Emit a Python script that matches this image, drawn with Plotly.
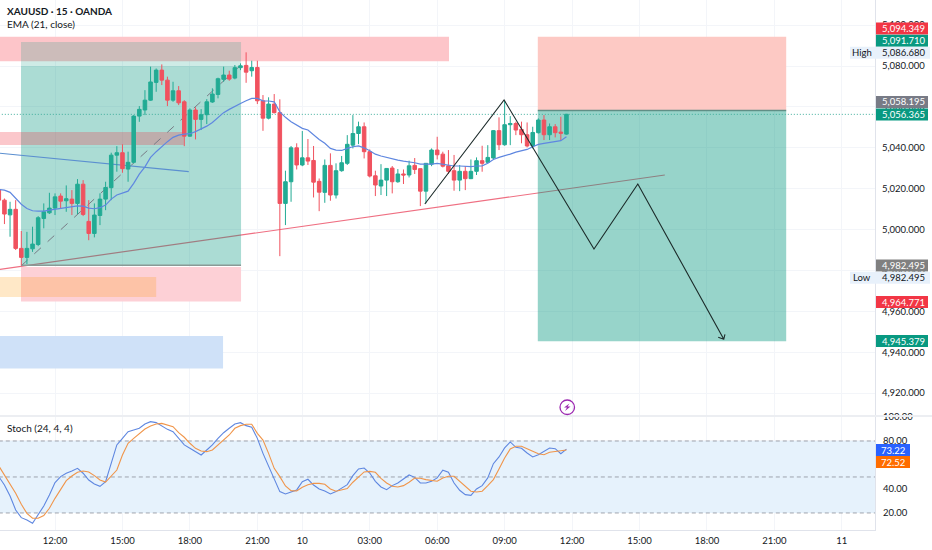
import plotly.graph_objects as go
from plotly.subplots import make_subplots

# bars are 15 min each, x is the bar number (12:00 on the 9th = bar 0), gaps in session don't count
bar_dirs = list(
    "RRGRRGGGGG" "GRGRGRRGGG" "GGRGGGGGGR" "RGRRGRGGGG" "GRGGRGRRGR"
    "RGGRGRRRGR" "GGGGGRRRGG" "RGRGRRGGRR" "RRGRGGRGGR" "GGRRRGGRGR"
    "RG"
)
bar_high = [5024.2, 5015.2, 5013.6, 5014.4, 4999.3, 4998.9, 5001.4, 5006.6, 5012.8, 5018.0,
            5017.7, 5017.7, 5021.6, 5019.3, 5024.7, 5024.2, 5014.4, 5012.8, 5017.7, 5023.4,
            5037.6, 5040.8, 5041.7, 5038.1, 5056.0, 5060.4, 5068.2, 5079.7, 5078.8, 5080.8,
            5074.8, 5072.3, 5070.2, 5063.3, 5059.3, 5059.8, 5058.9, 5063.8, 5069.1, 5074.3,
            5079.7, 5077.7, 5080.5, 5081.3, 5086.7, 5082.6, 5082.6, 5065.8, 5064.7, 5066.3,
            5063.7, 5028.8, 5040.9, 5042.2, 5048.2, 5044.3, 5040.9, 5025.0, 5034.3, 5037.3,
            5032.4, 5036.0, 5046.2, 5056.0, 5052.8, 5052.4, 5039.2, 5028.8, 5032.0, 5029.9,
            5031.1, 5029.6, 5029.4, 5033.7, 5035.0, 5029.9, 5032.4, 5039.7, 5045.4, 5038.1,
            5038.9, 5036.5, 5031.6, 5031.1, 5034.3, 5035.3, 5041.0, 5041.3, 5048.7, 5054.9,
            5063.0, 5055.5, 5052.8, 5052.8, 5052.4, 5050.3, 5054.4, 5056.0, 5051.9, 5051.6,
            5055.2, 5056.4]
bar_top = [5019.6, 5014.4, 5009.9, 5009.9, 4990.8, 4990.8, 4992.9, 5005.8, 5008.7, 5010.5,
           5016.0, 5016.4, 5015.1, 5014.9, 5022.2, 5022.2, 5004.0, 5007.1, 5014.9, 5020.6,
           5036.4, 5037.6, 5037.6, 5032.9, 5055.5, 5058.8, 5063.3, 5072.2, 5078.0, 5078.0,
           5073.1, 5067.9, 5067.9, 5062.5, 5058.5, 5058.5, 5056.2, 5062.5, 5066.3, 5073.8,
           5075.6, 5075.6, 5079.2, 5080.1, 5080.3, 5079.3, 5079.3, 5063.0, 5061.4, 5061.4,
           5057.2, 5023.4, 5040.0, 5040.0, 5035.1, 5035.1, 5033.8, 5023.6, 5031.4, 5031.4,
           5028.8, 5032.7, 5041.7, 5047.0, 5050.3, 5050.3, 5038.1, 5026.3, 5024.2, 5029.9,
           5030.1, 5027.2, 5027.2, 5031.2, 5031.4, 5029.8, 5032.4, 5038.9, 5038.9, 5036.9,
           5031.2, 5028.8, 5028.5, 5028.5, 5028.5, 5033.7, 5033.7, 5035.3, 5048.4, 5048.4,
           5051.3, 5051.9, 5051.9, 5049.0, 5046.4, 5047.5, 5053.6, 5053.6, 5050.3, 5050.3,
           5047.7, 5056.4]
bar_bottom = [5014.4, 5007.6, 5007.2, 4990.8, 4986.4, 4986.4, 4990.6, 4992.7, 5005.4, 5008.2,
              5010.5, 5013.9, 5014.1, 5012.8, 5012.8, 5007.4, 4998.1, 4998.1, 5006.9, 5014.9,
              5020.5, 5036.4, 5029.8, 5029.6, 5032.9, 5055.5, 5058.5, 5063.3, 5072.0, 5073.1,
              5063.3, 5063.3, 5062.0, 5045.7, 5045.7, 5053.9, 5053.9, 5056.2, 5062.4, 5066.1,
              5073.5, 5073.6, 5074.1, 5079.2, 5077.0, 5077.7, 5063.0, 5054.5, 5054.5, 5057.2,
              5012.8, 5012.8, 5023.4, 5031.6, 5031.6, 5033.5, 5023.2, 5018.3, 5018.2, 5016.9,
              5016.9, 5028.8, 5032.4, 5041.3, 5047.0, 5038.1, 5026.2, 5021.8, 5021.3, 5024.2,
              5023.4, 5023.4, 5026.7, 5026.7, 5029.4, 5018.8, 5018.8, 5032.0, 5036.6, 5031.0,
              5028.5, 5024.2, 5024.2, 5024.9, 5024.9, 5028.5, 5032.4, 5032.9, 5035.0, 5041.5,
              5041.5, 5051.3, 5048.7, 5046.4, 5040.9, 5040.9, 5047.4, 5046.4, 5046.4, 5047.4,
              5047.1, 5046.7]
bar_low = [5013.6, 5002.7, 4996.5, 4990.0, 4982.5, 4983.1, 4989.1, 4991.9, 5000.6, 5007.6,
           5007.1, 5010.3, 5008.7, 5007.1, 5007.6, 5006.6, 4994.8, 4996.2, 5002.2, 5009.5,
           5014.4, 5028.3, 5027.8, 5023.4, 5032.4, 5052.7, 5056.0, 5063.0, 5067.4, 5070.7,
           5060.4, 5062.5, 5060.9, 5040.8, 5045.4, 5044.1, 5048.7, 5051.6, 5062.0, 5064.2,
           5072.3, 5072.8, 5073.5, 5078.0, 5071.8, 5074.8, 5061.4, 5048.3, 5053.9, 5056.8,
           4987.0, 5002.2, 5013.6, 5029.4, 5031.0, 5031.6, 5015.7, 5009.0, 5013.1, 5014.1,
           5015.2, 5028.3, 5031.6, 5039.7, 5041.8, 5034.8, 5025.5, 5016.4, 5016.9, 5016.4,
           5017.7, 5022.9, 5022.3, 5025.5, 5027.2, 5011.5, 5012.8, 5031.0, 5034.3, 5030.4,
           5027.2, 5019.0, 5018.8, 5019.3, 5024.7, 5026.7, 5028.3, 5032.4, 5034.5, 5038.9,
           5041.0, 5041.3, 5046.2, 5042.2, 5040.2, 5039.7, 5047.0, 5043.8, 5043.8, 5045.1,
           5043.8, 5046.4]
ema21 = [5019.6, 5019.3, 5018.2, 5015.2, 5012.4, 5010.3, 5009.2, 5009.0, 5009.0, 5009.5,
         5009.9, 5010.2, 5010.5, 5011.0, 5011.6, 5011.5, 5010.5, 5010.2, 5010.7, 5012.0,
         5014.9, 5016.9, 5017.7, 5018.8, 5022.6, 5027.1, 5030.7, 5035.3, 5038.1, 5040.8,
         5043.0, 5045.1, 5046.2, 5046.7, 5046.9, 5047.9, 5049.2, 5050.6, 5052.4, 5054.9,
         5057.2, 5058.8, 5060.4, 5061.7, 5063.0, 5064.2, 5064.2, 5063.0, 5062.9, 5062.5,
         5057.6, 5054.9, 5052.8, 5051.1, 5049.5, 5048.7, 5046.2, 5044.1, 5042.2, 5039.7,
         5038.9, 5038.7, 5039.7, 5040.5, 5040.9, 5040.0, 5038.6, 5036.9, 5036.0, 5035.3,
         5034.5, 5034.0, 5033.5, 5033.2, 5032.7, 5032.0, 5031.9, 5032.0, 5032.4, 5032.0,
         5031.6, 5031.1, 5031.1, 5030.8, 5030.8, 5031.1, 5031.2, 5032.4, 5034.3, 5035.3,
         5036.0, 5036.9, 5037.9, 5038.6, 5039.2, 5040.5, 5041.7, 5042.2, 5042.7, 5043.2,
         5043.5, 5045.4]
stoch_k = [50.3, 43.3, 34.2, 22.5, 16.1, 14.2, 11.4, 18.3, 25.8, 35.0,
           45.3, 50.3, 53.1, 55.0, 57.2, 53.1, 47.5, 44.2, 42.2, 46.1,
           61.4, 76.7, 82.2, 87.8, 89.2, 90.6, 94.2, 96.1, 95.3, 92.5,
           89.7, 87.8, 82.2, 76.7, 73.9, 71.1, 68.3, 72.5, 76.7, 82.2,
           86.9, 90.6, 94.2, 95.3, 92.8, 91.4, 82.2, 69.7, 58.6, 48.9,
           37.8, 35.8, 37.5, 39.2, 46.1, 48.1, 43.3, 40.0, 38.3, 35.8,
           37.8, 40.8, 43.6, 51.1, 56.7, 57.5, 53.3, 46.4, 41.7, 39.4,
           42.8, 45.0, 48.3, 51.7, 49.7, 45.0, 45.0, 46.4, 49.2, 55.6,
           53.9, 45.0, 38.9, 35.3, 34.7, 40.0, 42.8, 49.2, 61.1, 66.7,
           74.2, 79.2, 74.7, 73.9, 70.0, 66.7, 68.6, 71.4, 74.2, 73.6,
           69.4, 73.22]
stoch_d = [59.2, 51.7, 43.3, 36.4, 27.2, 19.7, 15.6, 15.6, 17.8, 23.9,
           32.2, 40.0, 46.9, 50.8, 53.9, 55.0, 54.2, 51.1, 47.5, 45.8,
           51.1, 55.8, 68.3, 78.1, 82.2, 86.4, 90.0, 92.5, 94.2, 94.7,
           93.6, 91.9, 86.9, 83.1, 78.1, 73.9, 71.7, 71.1, 72.5, 76.7,
           80.3, 85.0, 90.6, 92.8, 93.9, 93.9, 86.4, 80.8, 69.7, 57.2,
           50.3, 42.5, 38.6, 38.3, 41.4, 43.6, 44.7, 44.7, 43.9, 40.0,
           38.1, 38.9, 40.3, 45.6, 50.0, 54.2, 54.7, 53.9, 48.9, 45.0,
           42.2, 41.7, 42.8, 45.6, 49.2, 48.9, 47.8, 46.9, 46.4, 49.2,
           50.6, 50.6, 46.4, 41.7, 38.1, 37.5, 38.1, 42.8, 47.8, 56.7,
           65.8, 73.3, 75.6, 75.6, 73.3, 71.4, 69.4, 68.6, 70.6, 71.4,
           71.9, 72.52]

x_ticks = [0, 12, 24, 36, 44, 56, 68, 80, 92, 104, 116, 128, 140]
x_labels = ["12:00", "15:00", "18:00", "21:00", "10", "03:00", "06:00", "09:00",
            "12:00", "15:00", "18:00", "21:00", "11"]
price_ticks = [4920, 4940, 4960, 4980, 5000, 5020, 5040, 5060, 5080, 5100]
stoch_ticks = [20, 40, 60, 80, 100]

# hand drawn objects on the chart: (x0, x1, price0, price1)
pink_zone_top = (-10, 70.1, 5082.4, 5094.3)
pink_zone_mid = (-10, 22.9, 5041.4, 5047.7)
pink_zone_low = (-6.05, 33.1, 4964.8, 4981.7)
orange_zone = (-10, 18, 4967, 4976.8)
blue_zone = (-10, 29.9, 4932, 4947.9)
long_stop = (-6.05, 33.1, 5080.0, 5091.7)
long_target = (-6.05, 33.1, 4982.5, 5080.0)
short_stop = (85.9, 130.1, 5058.2, 5094.3)
short_target = (85.9, 130.1, 4945.4, 5058.2)
trend_blue = (-10, 23.8, 5037.4, 5028.3)
trend_red = (-10, 108.5, 4980.5, 5026.7)
long_diag = (-6.05, 33.1, 4982.2, 5080.5)
# zigzag, the last three points are the little arrow head
path_x = [65.8, 79.9, 95.9, 103.7, 119.0, 118.0, 119.0, 119.2]
path_y = [5012.5, 5063.4, 4990.5, 5022.3, 4946.4, 4947.3, 4946.4, 4948.7]
last_price = 5056.365

GREEN = "#22ab94"
RED = "#f0525f"
TEXT = "#131722"
GRID = "#f3f5f9"
FONT = "Lato"
LABEL_SIZE = 9.5


def px(x):
    return x / 932


def py(y):
    return 1 - y / 550


bars = list(range(-10, 92))
opens = [b if d == "G" else t for d, t, b in zip(bar_dirs, bar_top, bar_bottom)]
closes = [t if d == "G" else b for d, t, b in zip(bar_dirs, bar_top, bar_bottom)]

fig = make_subplots(rows=2, cols=1, shared_xaxes=True)


def zone(box, color, op=1.0):
    fig.add_shape(type="rect", x0=box[0], x1=box[1], y0=box[2], y1=box[3], xref="x", yref="y",
                  fillcolor=color, opacity=op, line_width=0, layer="between")


def segment(seg, color, width=1, dash="solid", layer="between"):
    fig.add_shape(type="line", x0=seg[0], x1=seg[1], y0=seg[2], y1=seg[3], xref="x", yref="y",
                  line=dict(color=color, width=width, dash=dash), layer=layer)


# order matters, the red trend line runs under the green boxes
segment(trend_red, "#ef6f82", 1.2)
zone(pink_zone_top, "#fdc5c9")
zone(pink_zone_low, "#fdd0d6")
zone(orange_zone, "#ff9800", 0.22)
zone(blue_zone, "#cfe1f8")
zone(long_stop, "#089981", 0.2)
zone(long_target, "#089981", 0.34)
zone(pink_zone_mid, "#f23645", 0.28)
zone(short_stop, "#fdc9c4")
zone(short_target, "#089981", 0.42)
segment(long_diag, "#787b86", 1, "dash")
segment((-6.05, 33.1, 4982.5, 4982.5), "#8a9a96", 1.5)
segment((85.9, 130.1, 5058.2, 5058.2), "#5f8f86", 1.5)
segment(trend_blue, "#5b8fd0", 1.2)
segment((-10, 146, last_price, last_price), "#3fae9c", 1, "1px,2px")

fig.add_trace(go.Candlestick(x=bars, open=opens, high=bar_high, low=bar_low, close=closes,
                             increasing=dict(line=dict(color=GREEN, width=1), fillcolor=GREEN),
                             decreasing=dict(line=dict(color=RED, width=1), fillcolor=RED),
                             whiskerwidth=0), row=1, col=1)
fig.add_trace(go.Scatter(x=bars, y=ema21, mode="lines", line=dict(color="#5f87e0", width=1.2)), row=1, col=1)
fig.add_trace(go.Scatter(x=path_x, y=path_y, mode="lines", line=dict(color="#1c2b2a", width=1.1)), row=1, col=1)

# stochastic pane
fig.add_shape(type="rect", x0=-10, x1=146, y0=20, y1=80, xref="x2", yref="y2",
              fillcolor="#e6f2fc", line_width=0, layer="between")
for level in [20, 50, 80]:
    fig.add_shape(type="line", x0=-10, x1=146, y0=level, y1=level, xref="x2", yref="y2",
                  line=dict(color="#8b8e99", width=0.8, dash="4px,3px"), layer="between")
fig.add_trace(go.Scatter(x=bars, y=stoch_k, mode="lines", line=dict(color="#5f87e0", width=1.1)), row=2, col=1)
fig.add_trace(go.Scatter(x=bars, y=stoch_d, mode="lines", line=dict(color="#f0954a", width=1.1)), row=2, col=1)

tick_font = dict(size=LABEL_SIZE, family=FONT, color=TEXT)
fig.update_layout(
    width=932, height=550, margin=dict(l=0, r=0, t=0, b=0), showlegend=False,
    paper_bgcolor="white", plot_bgcolor="white", boxgap=0.1,
    font=dict(family=FONT, size=LABEL_SIZE, color=TEXT),
    xaxis=dict(domain=[0, px(875)], range=[-9.79, 145.9], rangeslider_visible=False, automargin=False,
               tickvals=x_ticks, ticktext=x_labels, showticklabels=False,
               showgrid=True, gridcolor=GRID, zeroline=False, showline=False, ticks=""),
    xaxis2=dict(domain=[0, px(875)], range=[-9.79, 145.9], matches="x", automargin=False,
                tickvals=x_ticks, ticktext=x_labels, showticklabels=True,
                showgrid=True, gridcolor=GRID, zeroline=False, showline=True, linecolor="#e0e3eb",
                ticks="outside", ticklen=2, tickcolor="rgba(0,0,0,0)", tickfont=tick_font),
    yaxis=dict(domain=[py(415), 1], range=[4909.3, 5112.3], side="right", tickvals=price_ticks, automargin=False,
               tickformat=",.3f", showgrid=True, gridcolor=GRID, zeroline=False,
               ticks="outside", ticklen=4, tickcolor="rgba(0,0,0,0)",
               showline=True, linecolor="#e0e3eb", tickfont=tick_font),
    yaxis2=dict(domain=[py(530), py(417)], range=[5.8, 100], side="right", tickvals=stoch_ticks, automargin=False,
                tickformat=".2f", showgrid=True, gridcolor=GRID, zeroline=False,
                ticks="outside", ticklen=5, tickcolor="rgba(0,0,0,0)",
                showline=True, linecolor="#e0e3eb", tickfont=tick_font),
)

# separator between panes
fig.add_shape(type="line", x0=0, x1=1, y0=py(416), y1=py(416), xref="paper", yref="paper",
              line=dict(color="#eceef2", width=2))

# small bolt icon
fig.add_shape(type="circle", x0=px(560), x1=px(574.5), y0=py(414.5), y1=py(400), xref="paper", yref="paper",
              line=dict(color="#9c27b0", width=1.3))
fig.add_shape(type="path", path=f"M {px(569.5)} {py(403.5)} L {px(564)} {py(407.5)} L {px(567)} {py(407.5)} "
                                f"L {px(565)} {py(411)} L {px(570.5)} {py(406.5)} L {px(567.5)} {py(406.5)} Z",
              xref="paper", yref="paper", fillcolor="#9c27b0", line_width=0)

# pane titles
for txt, x, y in [("<b>XAUUSD · 15 · OANDA</b>", 6, 11), ("EMA (21, close)", 6, 24), ("Stoch (24, 4, 4)", 6, 428)]:
    fig.add_annotation(x=px(x), y=py(y), xref="paper", yref="paper", text=txt, showarrow=False,
                       xanchor="left", yanchor="middle", xshift=-1,
                       font=dict(size=10, color=TEXT, family=FONT))

# price tags on the axis: text, pixel y, background, text colour
price_tags = [("5,094.349", 28.5, "#f23645", "white"), ("5,091.710", 40.7, "#089981", "white"),
              ("5,058.195", 102, "#787b86", "white"), ("5,056.365", 114.5, "#089981", "white"),
              ("4,982.495", 265.5, "#808080", "white"), ("4,964.771", 302, "#f23645", "white"),
              ("4,945.379", 341, "#089981", "white")]
for txt, y, bg, fg in price_tags:
    fig.add_shape(type="rect", x0=px(876), x1=px(928), y0=py(y + 6), y1=py(y - 6), xref="paper", yref="paper",
                  fillcolor=bg, line_width=0, layer="above")
    fig.add_annotation(x=px(903), y=py(y), xref="paper", yref="paper", text=txt, showarrow=False,
                       xanchor="center", yanchor="middle", font=dict(size=LABEL_SIZE, color=fg, family=FONT))

for name, txt, y in [("High", "5,086.680", 52.7), ("Low", "4,982.495", 277.7)]:
    fig.add_shape(type="rect", x0=px(850), x1=px(930), y0=py(y + 6), y1=py(y - 6), xref="paper", yref="paper",
                  fillcolor="#e8f1fb", line_width=0, layer="above")
    fig.add_annotation(x=px(862), y=py(y), xref="paper", yref="paper", text=name, showarrow=False,
                       xanchor="center", yanchor="middle", font=dict(size=LABEL_SIZE, color=TEXT, family=FONT))
    fig.add_annotation(x=px(903), y=py(y), xref="paper", yref="paper", text=txt, showarrow=False,
                       xanchor="center", yanchor="middle", font=dict(size=LABEL_SIZE, color=TEXT, family=FONT))

for txt, y, bg in [("73.22", 450, "#2962ff"), ("72.52", 462, "#ff6d00")]:
    fig.add_shape(type="rect", x0=px(876), x1=px(910), y0=py(y + 6), y1=py(y - 6), xref="paper", yref="paper",
                  fillcolor=bg, line_width=0, layer="above")
    fig.add_annotation(x=px(893), y=py(y), xref="paper", yref="paper", text=txt, showarrow=False,
                       xanchor="center", yanchor="middle", font=dict(size=LABEL_SIZE, color="white", family=FONT))

# page has a default body margin that would shift the chart by 8px
fig.write_html("out.html", config={"displayModeBar": False}, post_script="document.body.style.margin='0';")
